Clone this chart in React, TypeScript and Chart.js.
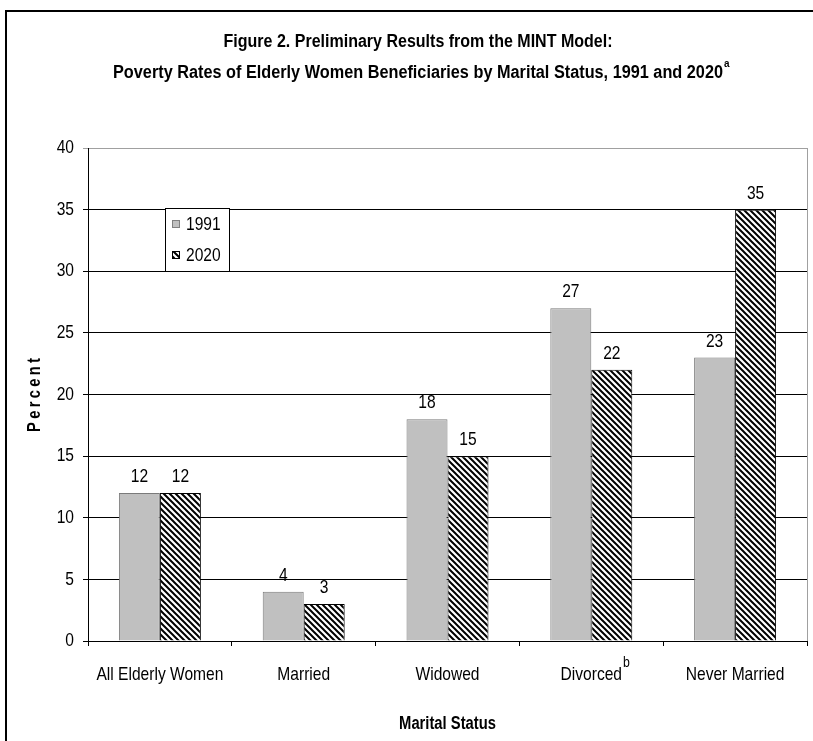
import React, { useEffect, useRef } from "react";
import { Chart, registerables } from "chart.js";

Chart.register(...registerables);

const categories = ["All Elderly Women", "Married", "Widowed", "Divorced", "Never Married"];
const series1991 = [12, 4, 18, 27, 23];
const series2020 = [12, 3, 15, 22, 35];
const seriesNames = ["1991", "2020"];
const yTicks = { min: 0, max: 40, step: 5 };
const titleLine1 = "Figure 2. Preliminary Results from the MINT Model:";
const titleLine2 = "Poverty Rates of Elderly Women Beneficiaries by Marital Status, 1991 and 2020";
const titleSup = "a";
const yTitle = "Percent";
const xTitle = "Marital Status";
const footnoteIndex = 3;
const footnoteMark = "b";

const FONT = '"Liberation Sans", Arial, sans-serif';
const GRAY = "#c0c0c0";
const NARROW = 0.82;

function makeHatch(): CanvasPattern | string {
  const s = 6;
  const c = document.createElement("canvas");
  c.width = s;
  c.height = s;
  const g = c.getContext("2d");
  if (!g) return "#888";
  g.fillStyle = "#fff";
  g.fillRect(0, 0, s, s);
  g.strokeStyle = "#000";
  g.lineWidth = 2;
  g.beginPath();
  for (const o of [-s, 0, s]) {
    g.moveTo(o - 1, -1);
    g.lineTo(o + s + 1, s + 1);
  }
  g.stroke();
  const p = g.createPattern(c, "repeat");
  return p || "#888";
}

function drawText(
  ctx: CanvasRenderingContext2D,
  s: string,
  x: number,
  y: number,
  font: string,
  align: CanvasTextAlign,
  baseline: CanvasTextBaseline = "alphabetic",
  sx: number = NARROW
) {
  ctx.save();
  ctx.font = font;
  ctx.textAlign = align;
  ctx.textBaseline = baseline;
  ctx.translate(x, y);
  ctx.scale(sx, 1);
  ctx.fillText(s, 0, 0);
  ctx.restore();
}

function textWidth(ctx: CanvasRenderingContext2D, s: string, font: string, sx: number = NARROW) {
  ctx.save();
  ctx.font = font;
  const w = ctx.measureText(s).width * sx;
  ctx.restore();
  return w;
}

export default function App() {
  const ref = useRef<HTMLCanvasElement | null>(null);

  useEffect(() => {
    if (!ref.current) return;
    const hatch = makeHatch();
    const TICK_FONT = `19px ${FONT}`;
    const BOLD_FONT = `bold 18px ${FONT}`;

    const overlay = {
      id: "overlay",
      afterDraw(chart: any) {
        const ctx = chart.ctx as CanvasRenderingContext2D;
        const area = chart.chartArea;
        ctx.save();
        ctx.fillStyle = "#000";

        // outer frame
        ctx.fillRect(5, 10, 808, 2);
        ctx.fillRect(5, 10, 2, 741);

        // plot right border
        ctx.strokeStyle = "#a0a0a0";
        ctx.lineWidth = 1;
        ctx.beginPath();
        ctx.moveTo(Math.round(area.right) + 0.5, area.top);
        ctx.lineTo(Math.round(area.right) + 0.5, area.bottom);
        ctx.stroke();

        // titles (condensed bold)
        const cx = 418;
        const raw1 = textWidth(ctx, titleLine1, BOLD_FONT, 1);
        const raw2 = textWidth(ctx, titleLine2, BOLD_FONT, 1);
        const s1 = 389 / raw1;
        const s2 = 610 / raw2;
        drawText(ctx, titleLine1, cx, 47, BOLD_FONT, "center", "alphabetic", s1);
        drawText(ctx, titleLine2, cx, 78, BOLD_FONT, "center", "alphabetic", s2);
        drawText(ctx, titleSup, cx + 305 + 1, 67, `bold 11px ${FONT}`, "left", "alphabetic", 0.9);

        // x title
        drawText(ctx, xTitle, (area.left + area.right) / 2, 729, BOLD_FONT, "center");

        // y title
        ctx.save();
        ctx.translate(40, 395);
        ctx.rotate(-Math.PI / 2);
        ctx.scale(NARROW, 1);
        (ctx as any).letterSpacing = "4px";
        ctx.font = BOLD_FONT;
        ctx.textAlign = "center";
        ctx.textBaseline = "alphabetic";
        ctx.fillText(yTitle, 2, 0);
        ctx.restore();

        // y tick labels
        const ys = chart.scales.y;
        ys.ticks.forEach((t: any) => {
          drawText(ctx, String(t.value), 74, ys.getPixelForValue(t.value), TICK_FONT, "right", "middle");
        });

        // x tick labels
        const xs = chart.scales.x;
        categories.forEach((c, i) => {
          drawText(ctx, c, xs.getPixelForValue(i), 680, TICK_FONT, "center");
        });
        const px = xs.getPixelForValue(footnoteIndex);
        const lw = textWidth(ctx, categories[footnoteIndex], TICK_FONT);
        drawText(ctx, footnoteMark, px + lw / 2 + 1, 667, `15px ${FONT}`, "left");

        // data labels
        chart.data.datasets.forEach((ds: any, i: number) => {
          const meta = chart.getDatasetMeta(i);
          meta.data.forEach((el: any, j: number) => {
            drawText(ctx, String(ds.data[j]), el.x, el.y - 11, TICK_FONT, "center");
          });
        });

        // legend
        const lx = 165, ly = 208, lwid = 64, lh = 63;
        ctx.fillStyle = "#fff";
        ctx.fillRect(lx, ly, lwid, lh);
        ctx.strokeStyle = "#000";
        ctx.lineWidth = 1;
        ctx.strokeRect(lx + 0.5, ly + 0.5, lwid, lh);
        const items = [
          { fill: GRAY as any, border: "#808080", y: 220 },
          { fill: hatch as any, border: "#000", y: 251 },
        ];
        items.forEach((it, k) => {
          ctx.fillStyle = it.fill;
          ctx.fillRect(172, it.y, 8, 8);
          ctx.strokeStyle = it.border;
          ctx.strokeRect(172.5, it.y + 0.5, 7, 7);
          ctx.fillStyle = "#000";
          drawText(ctx, seriesNames[k], 186, it.y + 5, TICK_FONT, "left", "middle");
        });

        ctx.restore();
      },
    };

    const chart = new Chart(ref.current, {
      type: "bar",
      data: {
        labels: categories,
        datasets: [
          {
            label: seriesNames[0],
            data: series1991,
            backgroundColor: GRAY,
            borderColor: "#7a7a7a",
            borderWidth: 1,
            categoryPercentage: 0.57,
            barPercentage: 1,
          },
          {
            label: seriesNames[1],
            data: series2020,
            backgroundColor: hatch as any,
            borderColor: "#000",
            borderWidth: 1,
            categoryPercentage: 0.57,
            barPercentage: 1,
          },
        ],
      },
      options: {
        responsive: false,
        animation: false,
        layout: { padding: { left: 0, top: 148, right: 6, bottom: 0 } },
        plugins: {
          legend: { display: false },
          title: { display: false },
          tooltip: { enabled: false },
        },
        scales: {
          x: {
            afterFit: (s: any) => {
              s.height = 100;
            },
            grid: {
              offset: true,
              drawOnChartArea: false,
              drawTicks: true,
              tickLength: 5,
              color: "#000",
            },
            border: { color: "#000", width: 1 },
            ticks: { display: false, autoSkip: false },
          },
          y: {
            min: yTicks.min,
            max: yTicks.max,
            afterFit: (s: any) => {
              s.width = 88;
            },
            grid: {
              color: (c: any) => (c.tick && c.tick.value === yTicks.max ? "#a0a0a0" : "#000"),
              tickLength: 5,
              lineWidth: 1,
            },
            border: { color: "#000", width: 1 },
            ticks: { display: false, stepSize: yTicks.step },
          },
        },
      },
      plugins: [overlay],
    });

    return () => chart.destroy();
  }, []);

  return (
    <div style={{ position: "absolute", left: 0, top: 0, width: 813, height: 741, background: "#fff" }}>
      <canvas ref={ref} width={813} height={741} style={{ display: "block" }} />
    </div>
  );
}
